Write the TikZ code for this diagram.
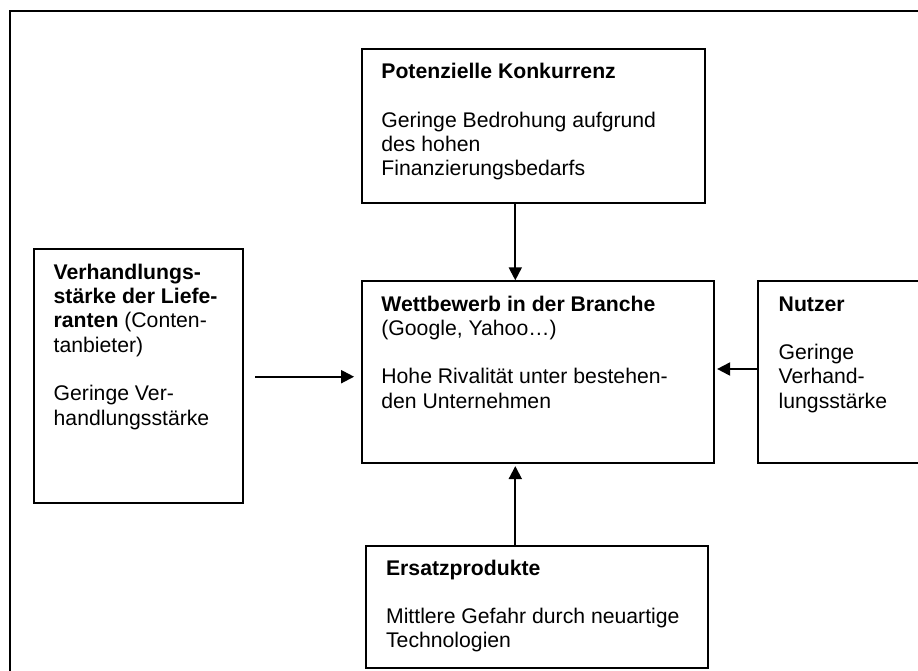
\documentclass[tikz,border=0pt]{standalone}
\usepackage{fontspec}
\setmainfont{Liberation Sans}
\usetikzlibrary{arrows.meta}
\begin{document}
\begin{tikzpicture}[x=0.5pt,y=-0.5pt,
  box/.style={draw, line width=1pt, inner sep=0pt, anchor=north west},
  txt/.style={anchor=base west, inner sep=0pt, font=\fontsize{10.6pt}{12.15pt}\selectfont},
  arr/.style={line width=1pt, -{Triangle[length=6.5pt,width=6.5pt]}}]
\useasboundingbox (0,0) rectangle (918,671);
\draw[line width=1pt] (10,11) rectangle (940,700);
% boxes
\node[box, minimum width=171.5pt, minimum height=77pt] (pk) at (360.7,48) {};
\node[box, minimum width=104.65pt, minimum height=127.15pt] (lb) at (32.7,247.7) {};
\node[box, minimum width=176pt, minimum height=90.7pt] (wb) at (360.7,280.3) {};
\node[box, minimum width=100pt, minimum height=90.7pt] (nu) at (757.3,280.3) {};
\node[box, minimum width=171pt, minimum height=60.85pt] (ez) at (365,545) {};
% texts
\node[txt] (tpk) at (381,78.5) {\parbox[t]{200pt}{\raggedright\textbf{Potenzielle Konkurrenz}\\[12.15pt]Geringe Bedrohung aufgrund\\des hohen\\Finanzierungsbedarfs}};
\node[txt] (tlb) at (53.3,279.3) {\parbox[t]{200pt}{\raggedright\textbf{Verhandlungs-}\\\textbf{stärke der Liefe-}\\\textbf{ranten} (Conten-\\tanbieter)\\[12.15pt]Geringe Ver-\\handlungsstärke}};
\node[txt] (twb) at (381,311) {\parbox[t]{200pt}{\raggedright\textbf{Wettbewerb in der Branche}\\(Google, Yahoo…)\\[12.15pt]Hohe Rivalität unter bestehen-\\den Unternehmen}};
\node[txt] (tnu) at (778.3,311) {\parbox[t]{200pt}{\raggedright\textbf{Nutzer}\\[12.15pt]Geringe\\Verhand-\\lungsstärke}};
\node[txt] (tez) at (385.7,575) {\parbox[t]{200pt}{\raggedright\textbf{Ersatzprodukte}\\[12.15pt]Mittlere Gefahr durch neuartige\\Technologien}};
% arrows
\coordinate (vx) at (515.3,0);
\coordinate (hl) at (0,376.7);
\coordinate (hr) at (0,369);
\draw[arr] (vx |- pk.south) -- (vx |- wb.north);
\draw[arr, shorten >=1.2pt] (vx |- ez.north) -- (vx |- wb.south);
\draw[arr, shorten <=5.5pt, shorten >=3.3pt] (hl -| lb.east) -- (hl -| wb.west);
\draw[arr, shorten >=1.2pt] (hr -| nu.west) -- (hr -| wb.east);
\end{tikzpicture}
\end{document}
